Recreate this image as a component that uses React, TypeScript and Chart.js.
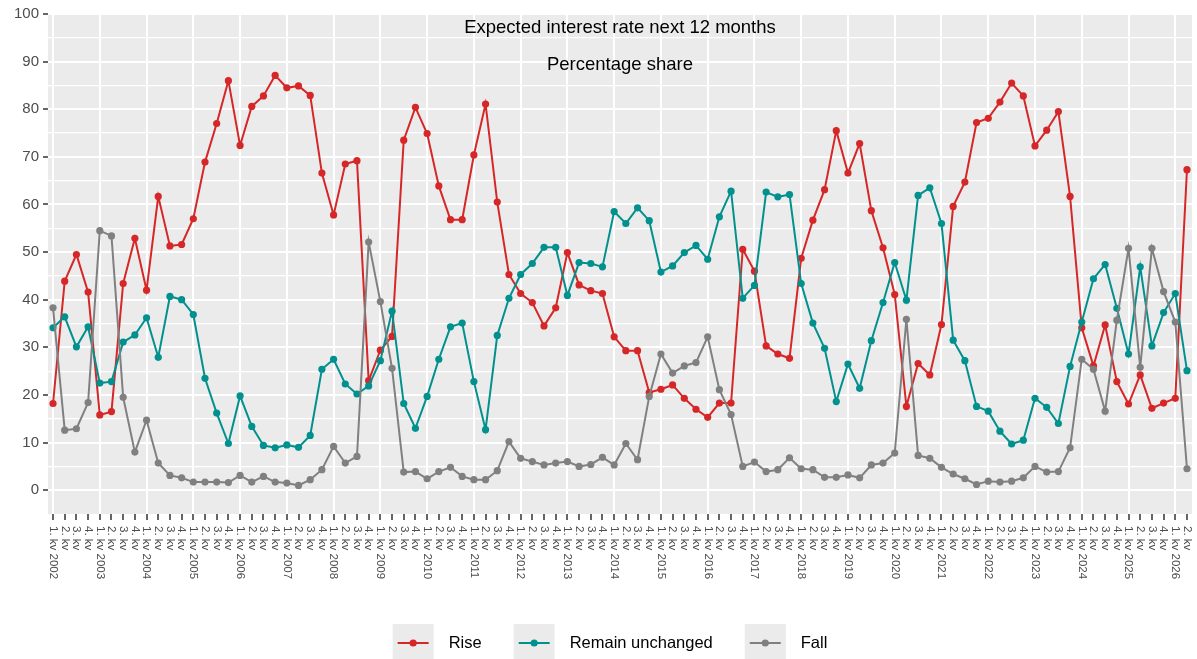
import { useEffect, useRef } from "react";
import { Chart, registerables } from "chart.js";

Chart.register(...registerables);

// ---------- data ----------
const years = [
  2002, 2003, 2004, 2005, 2006, 2007, 2008, 2009, 2010, 2011, 2012, 2013,
  2014, 2015, 2016, 2017, 2018, 2019, 2020, 2021, 2022, 2023, 2024, 2025, 2026,
];
const quarterNames = ["1. kv", "2. kv", "3. kv", "4. kv"];
const quartersInLastYear = 2;

const seriesNames = ["Rise", "Remain unchanged", "Fall"];

const riseValues = [
  18.2, 43.9, 49.5, 41.6, 15.8, 16.5, 43.4, 52.9, 42.0, 61.7, 51.3, 51.6,
  57.0, 68.9, 77.0, 86.0, 72.4, 80.6, 82.8, 87.1, 84.5, 84.9, 82.9, 66.6,
  57.8, 68.5, 69.2, 23.0, 29.4, 32.3, 73.5, 80.4, 74.9, 63.9, 56.8, 56.8,
  70.4, 81.1, 60.5, 45.3, 41.3, 39.4, 34.5, 38.3, 49.9, 43.1, 41.9, 41.3,
  32.2, 29.3, 29.3, 20.5, 21.2, 22.1, 19.3, 17.0, 15.3, 18.3, 18.3, 50.6,
  46.0, 30.3, 28.6, 27.7, 48.7, 56.7, 63.1, 75.5, 66.6, 72.8, 58.7, 50.9,
  41.1, 17.6, 26.6, 24.2, 34.8, 59.6, 64.7, 77.2, 78.1, 81.5, 85.5, 82.8,
  72.3, 75.6, 79.5, 61.7, 34.1, 26.1, 34.7, 22.8, 18.1, 24.2, 17.2, 18.3,
  19.3, 67.3,
];

const remainValues = [
  34.1, 36.4, 30.1, 34.3, 22.5, 22.8, 31.1, 32.6, 36.2, 27.9, 40.7, 40.0,
  36.9, 23.5, 16.2, 9.8, 19.8, 13.4, 9.4, 8.9, 9.5, 9.0, 11.5, 25.4,
  27.5, 22.3, 20.2, 21.9, 27.2, 37.6, 18.2, 13.0, 19.7, 27.5, 34.3, 35.1,
  22.8, 12.7, 32.5, 40.3, 45.3, 47.6, 51.0, 51.0, 40.9, 47.8, 47.6, 46.9,
  58.5, 56.0, 59.3, 56.6, 45.8, 47.1, 49.9, 51.4, 48.5, 57.4, 62.8, 40.3,
  43.0, 62.6, 61.6, 62.1, 43.4, 35.1, 29.8, 18.6, 26.5, 21.4, 31.4, 39.4,
  47.8, 39.9, 61.9, 63.5, 56.0, 31.5, 27.2, 17.6, 16.6, 12.4, 9.7, 10.5,
  19.3, 17.4, 14.0, 26.0, 35.3, 44.4, 47.4, 38.2, 28.6, 46.9, 30.3, 37.3,
  41.3, 25.1,
];

const fallValues = [
  38.3, 12.6, 12.9, 18.4, 54.5, 53.4, 19.5, 8.0, 14.7, 5.7, 3.1, 2.6,
  1.7, 1.7, 1.7, 1.6, 3.1, 1.7, 2.9, 1.7, 1.5, 1.0, 2.2, 4.3,
  9.2, 5.7, 7.1, 52.1, 39.6, 25.6, 3.8, 3.9, 2.4, 3.9, 4.8, 2.9,
  2.2, 2.2, 4.1, 10.2, 6.7, 6.0, 5.3, 5.7, 6.0, 5.0, 5.4, 6.9,
  5.3, 9.8, 6.4, 19.7, 28.6, 24.6, 26.1, 26.8, 32.2, 21.1, 15.9, 5.0,
  5.9, 3.9, 4.3, 6.8, 4.5, 4.3, 2.7, 2.7, 3.2, 2.6, 5.3, 5.7,
  7.8, 35.9, 7.3, 6.7, 4.8, 3.4, 2.4, 1.2, 1.9, 1.7, 1.9, 2.6,
  5.0, 3.8, 3.9, 8.9, 27.5, 25.4, 16.6, 35.7, 50.8, 25.8, 50.8, 41.7,
  35.3, 4.5,
];

const yMin = -5;
const yMax = 100;
const yGridValues = [0, 5, 10, 15, 20, 25, 30, 35, 40, 45, 50, 55, 60, 65, 70, 75, 80, 85, 90, 95, 100];
const titleLines = ["Expected interest rate next 12 months", "Percentage share"];

// ---------- derived ----------
const labels: string[] = [];
years.forEach((yr, yi) => {
  quarterNames.forEach((q, qi) => {
    if (yi === years.length - 1 && qi >= quartersInLastYear) return;
    labels.push(qi === 0 ? `${q} ${yr}` : q);
  });
});

const seriesValues = [riseValues, remainValues, fallValues];
const seriesColors = ["#D62728", "#00918F", "#808080"];

const FONT = "'Liberation Sans', Arial, Helvetica, sans-serif";
const PANEL_BG = "#EBEBEB";
const X_PAD = 0.43;

const panelPlugin = {
  id: "panelBg",
  beforeDraw(chart: any) {
    const { ctx, chartArea } = chart;
    ctx.save();
    ctx.fillStyle = PANEL_BG;
    ctx.fillRect(chartArea.left, chartArea.top, chartArea.right - chartArea.left, chartArea.bottom - chartArea.top);
    ctx.restore();
  },
};

const xLabelPlugin = {
  id: "xLabels",
  afterDraw(chart: any) {
    const { ctx, chartArea } = chart;
    const xs = chart.scales.x;
    ctx.save();
    ctx.font = `11.5px ${FONT}`;
    ctx.fillStyle = "#4D4D4D";
    ctx.textAlign = "left";
    ctx.textBaseline = "middle";
    labels.forEach((lab, i) => {
      const px = xs.getPixelForValue(i);
      ctx.save();
      ctx.translate(px, chartArea.bottom + 12);
      ctx.rotate(Math.PI / 2);
      ctx.fillText(lab, 0, 0);
      ctx.restore();
    });
    ctx.restore();
  },
};

const titlePlugin = {
  id: "titleText",
  afterDraw(chart: any) {
    const { ctx, chartArea } = chart;
    const cx = (chartArea.left + chartArea.right) / 2;
    ctx.save();
    ctx.font = `18.5px ${FONT}`;
    ctx.fillStyle = "#000000";
    ctx.textAlign = "center";
    ctx.textBaseline = "middle";
    ctx.fillText(titleLines[0], cx, 28);
    ctx.fillText(titleLines[1], cx, 65);
    ctx.restore();
  },
};

const legendPlugin = {
  id: "bottomLegend",
  afterDraw(chart: any) {
    const { ctx } = chart;
    const keyW = 41;
    const keyH = 38;
    const gapKeyText = 15;
    const gapItems = 32;
    const cy = 643;
    ctx.save();
    ctx.font = `16.5px ${FONT}`;
    const widths = seriesNames.map((n) => ctx.measureText(n).width);
    const total = widths.reduce((a, b) => a + b, 0) + seriesNames.length * (keyW + gapKeyText) + (seriesNames.length - 1) * gapItems;
    let x = 610 - total / 2;
    seriesNames.forEach((name, i) => {
      ctx.fillStyle = PANEL_BG;
      ctx.fillRect(x, cy - keyH / 2, keyW, keyH);
      ctx.strokeStyle = seriesColors[i];
      ctx.lineWidth = 2;
      ctx.beginPath();
      ctx.moveTo(x + 5, cy);
      ctx.lineTo(x + keyW - 5, cy);
      ctx.stroke();
      ctx.fillStyle = seriesColors[i];
      ctx.beginPath();
      ctx.arc(x + keyW / 2, cy, 3.6, 0, Math.PI * 2);
      ctx.fill();
      ctx.fillStyle = "#000000";
      ctx.textAlign = "left";
      ctx.textBaseline = "middle";
      ctx.fillText(name, x + keyW + gapKeyText, cy);
      x += keyW + gapKeyText + widths[i] + gapItems;
    });
    ctx.restore();
  },
};

export default function App() {
  const canvasRef = useRef<HTMLCanvasElement | null>(null);

  useEffect(() => {
    if (!canvasRef.current) return;
    const datasets = seriesNames.map((name, i) => ({
      label: name,
      data: seriesValues[i].map((v, idx) => ({ x: idx, y: v })),
      borderColor: seriesColors[i],
      backgroundColor: seriesColors[i],
      pointBackgroundColor: seriesColors[i],
      pointBorderWidth: 0,
      pointRadius: 3.6,
      borderWidth: 2,
      tension: 0,
      order: seriesNames.length - i,
    }));

    const chart = new Chart(canvasRef.current, {
      type: "line",
      data: { datasets },
      plugins: [panelPlugin, xLabelPlugin, titlePlugin, legendPlugin],
      options: {
        animation: false,
        responsive: true,
        maintainAspectRatio: false,
        events: [],
        layout: { padding: { top: 14, right: 5, left: 0, bottom: 0 } },
        plugins: {
          legend: { display: false },
          title: { display: false },
          tooltip: { enabled: false },
        },
        scales: {
          x: {
            type: "linear",
            min: -X_PAD,
            max: labels.length - 1 + X_PAD,
            afterBuildTicks: (s: any) => {
              s.ticks = labels.map((_, i) => ({ value: i }));
            },
            afterFit: (s: any) => {
              s.height = 145;
            },
            ticks: { display: false },
            border: { display: false },
            grid: {
              color: (c: any) => (c.tick && c.tick.value % 4 === 0 ? "#FFFFFF" : "rgba(0,0,0,0)"),
              lineWidth: 2,
              drawTicks: true,
              tickLength: 6,
              tickColor: "#333333",
              tickWidth: 1.5,
            },
          },
          y: {
            type: "linear",
            min: yMin,
            max: yMax,
            afterBuildTicks: (s: any) => {
              s.ticks = yGridValues.map((v) => ({ value: v }));
            },
            afterFit: (s: any) => {
              s.width = 48;
            },
            border: { display: false },
            ticks: {
              autoSkip: false,
              padding: 4,
              color: "#4D4D4D",
              font: { family: FONT, size: 15 },
              callback: (v: any) => (Number(v) % 10 === 0 ? String(v) : ""),
            },
            grid: {
              color: "#FFFFFF",
              lineWidth: (c: any) => (c.tick && c.tick.value % 10 === 0 ? 2 : 1.2),
              drawTicks: true,
              tickLength: 5,
              tickColor: (c: any) => (c.tick && c.tick.value % 10 === 0 ? "#333333" : "rgba(0,0,0,0)"),
              tickWidth: 1.5,
            },
          },
        },
      },
    });
    return () => chart.destroy();
  }, []);

  return (
    <div style={{ position: "absolute", left: 0, top: 0, width: 1197, height: 659, background: "#FFFFFF" }}>
      <canvas ref={canvasRef} />
    </div>
  );
}
